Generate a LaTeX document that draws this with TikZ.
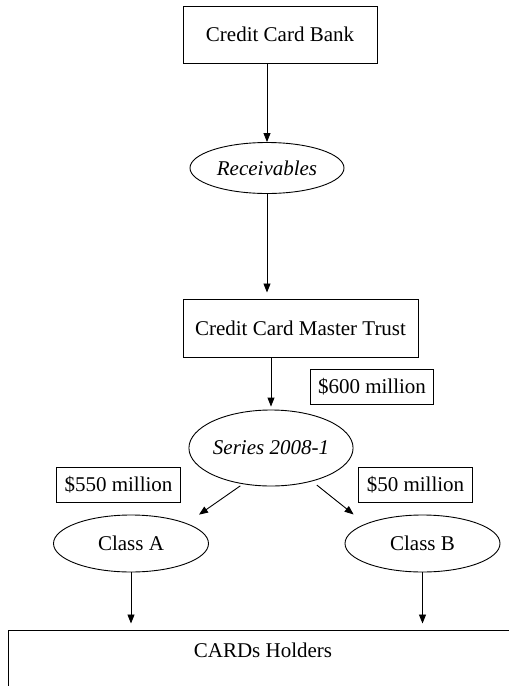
\documentclass[tikz,border=0pt]{standalone}
\usepackage{fontspec}
\setmainfont{Liberation Serif}
\usetikzlibrary{shapes.geometric,arrows.meta}
\begin{document}
\begin{tikzpicture}[x=1pt,y=-1pt,
  every node/.style={font=\fontsize{21}{25}\selectfont, inner sep=0pt},
  box/.style={draw, line width=1pt, rectangle},
  oval/.style={draw, line width=0.9pt, ellipse},
  amount/.style={draw, line width=1pt, rectangle, minimum height=35pt, inner xsep=8pt},
  arr/.style={line width=0.9pt, -{Triangle[length=9pt,width=7pt]}}]
\useasboundingbox (0,0) rectangle (509,686);
\clip (0,0) rectangle (509,686);

% main chain
\node[box, minimum width=194pt, minimum height=57pt] (bank) at (280,34.5) {Credit Card Bank};
\node[oval, minimum width=154pt, minimum height=51pt, font=\fontsize{21}{25}\selectfont\itshape] (rec) at (267,168) {Receivables};
\node[box, minimum width=235pt, minimum height=58pt] (trust) at (300.5,328) {Credit Card Master Trust};
\node[oval, minimum width=155pt, minimum height=76pt, font=\fontsize{21}{25}\selectfont\itshape] (series) at (271,448) {Series 2008-1};
\node[oval, minimum width=155pt, minimum height=57pt] (classA) at (131,543.5) {Class A};
\node[oval, minimum width=155pt, minimum height=57pt] (classB) at (422.5,543.5) {Class B};
\node[box, minimum width=520pt, minimum height=80pt] (cards) at (268,670) {};
\node (cardstext) at (263,650) {CARDs Holders};

% amounts
\node[amount] (m600) at (372,386.5) {\$600 million};
\node[amount] (m550) at (118.5,484.5) {\$550 million};
\node[amount] (m50) at (415.5,484.5) {\$50 million};

% flows
\draw[arr] (bank.south -| rec.north) -- (rec.north);
\draw[arr, shorten >=6pt] (rec.south) -- (rec.south |- trust.north);
\draw[arr, shorten >=3pt] (trust.south -| series.north) -- (series.north);
\draw[arr, shorten <=3pt, shorten >=15pt] (series.232) -- (classA.20);
\draw[arr, shorten <=6pt, shorten >=15pt] (series.321) -- (classB.161);
\draw[arr, shorten >=6pt] (classA.south) -- (classA.south |- cards.north);
\draw[arr, shorten >=6pt] (classB.south) -- (classB.south |- cards.north);
\end{tikzpicture}
\end{document}
